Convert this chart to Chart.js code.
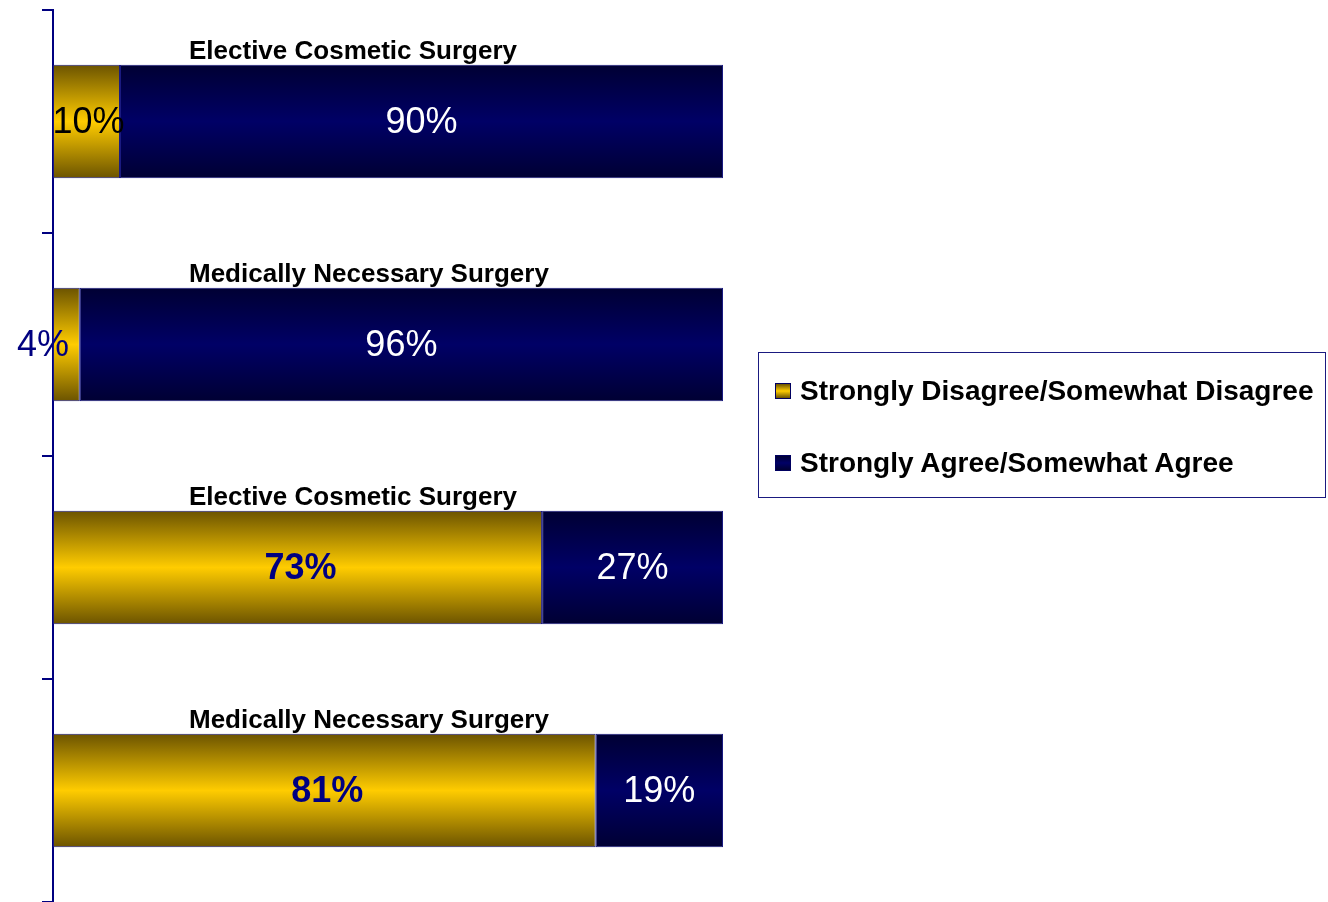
<!DOCTYPE html>
<html>
<head>
<meta charset="utf-8">
<script src="https://cdn.jsdelivr.net/npm/chart.js@4/dist/chart.umd.min.js"></script>
<style>
  html, body { margin: 0; padding: 0; background: #fff; }
  .chart-wrap { position: relative; width: 1328px; height: 902px; }
  #legend {
    position: absolute; left: 758px; top: 352px; width: 568px; height: 146px;
    border: 1px solid #1a1a80; box-sizing: border-box;
    font: bold 28px "Liberation Sans", Arial, sans-serif; color: #000; line-height: 32px;
  }
  #legend .item { position: absolute; left: 16px; display: flex; align-items: center; white-space: nowrap; }
  #legend .swatch { width: 14px; height: 14px; border: 1px solid #000060; margin-right: 9px; }
</style>
</head>
<body>
<div class="chart-wrap">
  <canvas id="surveyChart" width="1328" height="902"></canvas>
  <div id="legend"></div>
</div>
<script>
const categories = ['Elective Cosmetic Surgery', 'Medically Necessary Surgery', 'Elective Cosmetic Surgery', 'Medically Necessary Surgery'];
const seriesNames = ['Strongly Disagree/Somewhat Disagree', 'Strongly Agree/Somewhat Agree'];
const disagreeValues = [10, 4, 73, 81];
const agreeValues = [90, 96, 27, 19];

const FONT = '"Liberation Sans", Arial, sans-serif';
const NAVY = '#000080';
const BAR_PCT = 0.51;

const gold = { edge: '#6b5300', mid: '#ffcc00' };
const blue = { edge: '#000033', mid: '#000066' };

function barFill(colors) {
  return (ctx) => {
    const chart = ctx.chart;
    const y = chart.scales && chart.scales.y;
    if (!y || ctx.dataIndex == null) return colors.mid;
    const c = y.getPixelForValue(ctx.dataIndex);
    const half = (y.height / categories.length) * BAR_PCT / 2;
    if (!isFinite(c) || !isFinite(half) || half <= 0) return colors.mid;
    const g = chart.ctx.createLinearGradient(0, c - half, 0, c + half);
    g.addColorStop(0, colors.edge);
    g.addColorStop(0.5, colors.mid);
    g.addColorStop(1, colors.edge);
    return g;
  };
}

const labelPlugin = {
  id: 'labels',
  afterDatasetsDraw(chart) {
    const { ctx, scales: { y } } = chart;
    const half = (y.height / categories.length) * BAR_PCT / 2;
    ctx.save();
    ctx.textBaseline = 'middle';
    // category titles above the bars
    ctx.font = 'bold 26px ' + FONT;
    ctx.fillStyle = '#000';
    ctx.textAlign = 'left';
    categories.forEach((name, i) => {
      ctx.fillText(name, 189, y.getPixelForValue(i) - half - 13);
    });
    // value labels
    ctx.textAlign = 'center';
    chart.data.datasets.forEach((ds, di) => {
      chart.getDatasetMeta(di).data.forEach((bar, i) => {
        const v = ds.data[i];
        const left = Math.min(bar.x, bar.base), right = Math.max(bar.x, bar.base);
        let x = (left + right) / 2;
        if (di === 0) {
          if (v < 5) { ctx.font = '36px ' + FONT; ctx.fillStyle = NAVY; x = left - 10; }
          else if (v < 50) { ctx.font = '36px ' + FONT; ctx.fillStyle = '#000'; x += 2; }
          else { ctx.font = 'bold 36px ' + FONT; ctx.fillStyle = NAVY; x += 3; }
        } else {
          ctx.font = '36px ' + FONT; ctx.fillStyle = '#fff';
        }
        ctx.fillText(v + '%', x, bar.y + 2);
      });
    });
    ctx.restore();
  }
};

const chart = new Chart(document.querySelector('#surveyChart'), {
  type: 'bar',
  data: {
    labels: categories,
    datasets: [
      { label: seriesNames[0], data: disagreeValues, backgroundColor: barFill(gold), borderColor: '#1a1a80', borderWidth: 1, borderSkipped: false },
      { label: seriesNames[1], data: agreeValues, backgroundColor: barFill(blue), borderColor: '#1a1a80', borderWidth: 1, borderSkipped: false }
    ]
  },
  options: {
    indexAxis: 'y',
    responsive: false,
    animation: false,
    devicePixelRatio: 1,
    layout: { padding: { top: 10, right: 605, bottom: 0, left: 0 } },
    datasets: { bar: { categoryPercentage: 1, barPercentage: BAR_PCT } },
    plugins: { legend: { display: false }, tooltip: { enabled: false } },
    scales: {
      x: { stacked: true, min: 0, max: 100, display: false },
      y: {
        stacked: true,
        afterFit: (s) => { s.width = 53; },
        ticks: { display: false },
        grid: { offset: true, drawOnChartArea: false, drawTicks: true, tickLength: 11, color: NAVY, lineWidth: 2 },
        border: { display: true, color: NAVY, width: 2 }
      }
    }
  },
  plugins: [labelPlugin]
});

const legend = document.querySelector('#legend');
const swatches = [
  'linear-gradient(#6b5300, #ffcc00 50%, #6b5300)',
  'linear-gradient(#000033, #000066 50%, #000033)'
];
seriesNames.forEach((name, i) => {
  const item = document.createElement('div');
  item.className = 'item';
  item.style.top = (i === 0 ? 22 : 94) + 'px';
  item.innerHTML = `<span class="swatch" style="background:${swatches[i]}"></span><span>${name}</span>`;
  legend.appendChild(item);
});
</script>
</body>
</html>
